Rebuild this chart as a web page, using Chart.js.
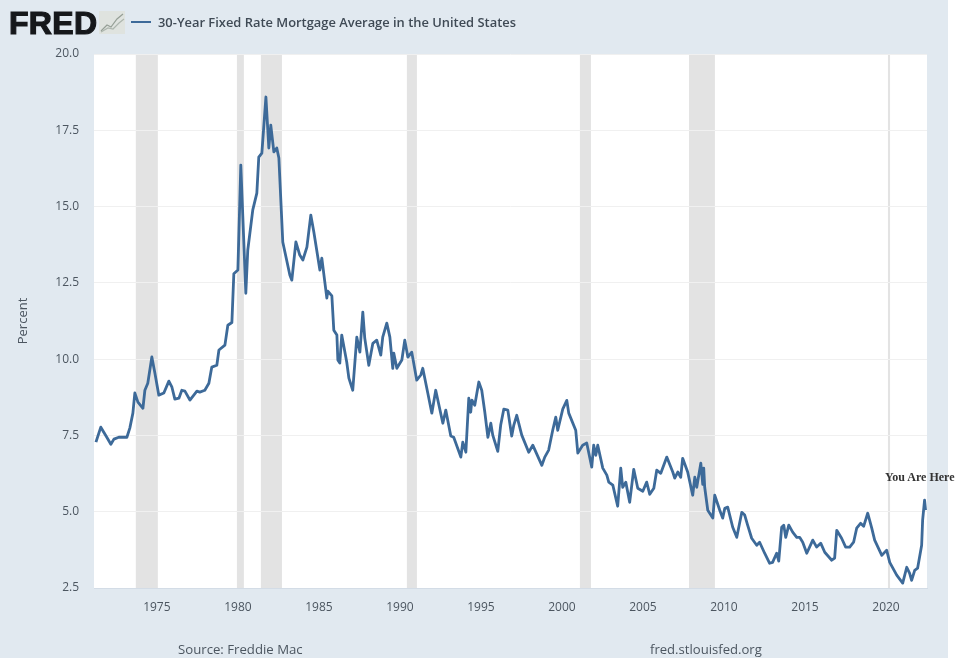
<!DOCTYPE html>
<html>
<head>
<meta charset="utf-8">
<title>30-Year Fixed Rate Mortgage Average in the United States</title>
<script src="https://cdn.jsdelivr.net/npm/chart.js@4/dist/chart.umd.min.js"></script>
<style>
    html, body { margin: 0; padding: 0; background: #fff; }
    #wrap { position: relative; width: 960px; height: 658px; overflow: hidden; }
    #panel { position: absolute; left: 0; top: 0; width: 948px; height: 658px; background: #e1e9f0; }
    canvas { position: absolute; left: 0; top: 0; }
    .label { position: absolute; white-space: nowrap; font-family: "Open Sans", sans-serif; color: #4c5660; }
    #logo { left: 9px; top: 5px; font: 900 32px/36px "Liberation Sans", sans-serif; color: #16181b; letter-spacing: 0.3px; -webkit-text-stroke: 1.2px #16181b; }
    #icon { position: absolute; left: 99px; top: 11px; }
    #key { position: absolute; left: 131px; top: 21px; width: 20px; height: 2px; background: #3d6a99; }
    #title { left: 158px; top: 13px; font-size: 12.9px; line-height: 18px; font-weight: 600; color: #3f4a55; }
    #source { left: 178px; top: 640px; font-size: 13.2px; line-height: 18px; }
    #site { left: 650px; top: 640px; font-size: 13.1px; line-height: 18px; }
    #here { left: 885px; top: 470px; font: bold 12px/14px "Liberation Serif", serif; color: #333; }
</style>
</head>
<body>
<div id="wrap">
    <div id="panel"></div>
    <canvas id="mortgageChart" width="960" height="658"></canvas>
    <div class="label" id="logo">FRED</div>
    <svg id="icon" width="26" height="23" viewBox="0 0 26 23">
        <rect width="26" height="23" fill="#dfe3df"/>
        <polyline points="2,20 8,14 12,16 18,8 24,3" fill="none" stroke="#959f96" stroke-width="1.2"/>
        <polyline points="2,21 9,17 14,18 20,12 25,8" fill="none" stroke="#adb6ae" stroke-width="1.2"/>
    </svg>
    <div id="key"></div>
    <div class="label" id="title">30-Year Fixed Rate Mortgage Average in the United States</div>
    <div class="label" id="source">Source: Freddie Mac</div>
    <div class="label" id="site">fred.stlouisfed.org</div>
    <div class="label" id="here">You Are Here</div>
</div>
<script>
// Values (decimal year, percent)
const years = [
    1971.24, 1971.54, 1971.91, 1972.16, 1972.35, 1972.65, 1973.15, 1973.33, 1973.52, 1973.64,
    1973.83, 1974.14, 1974.26, 1974.44, 1974.69, 1974.88, 1975.12, 1975.43, 1975.74, 1975.93,
    1976.11, 1976.36, 1976.54, 1976.73, 1977.04, 1977.47, 1977.65, 1977.96, 1978.21, 1978.39,
    1978.70, 1978.83, 1979.20, 1979.38, 1979.63, 1979.75, 1980.00, 1980.18, 1980.49, 1980.61,
    1980.92, 1981.17, 1981.29, 1981.48, 1981.73, 1981.91, 1982.03, 1982.22, 1982.40, 1982.53,
    1982.77, 1983.21, 1983.33, 1983.58, 1983.82, 1984.01, 1984.26, 1984.50, 1984.69, 1985.06,
    1985.18, 1985.49, 1985.55, 1985.80, 1985.92, 1986.11, 1986.17, 1986.29, 1986.41, 1986.72,
    1986.85, 1987.09, 1987.34, 1987.53, 1987.71, 1987.83, 1988.08, 1988.33, 1988.57, 1988.82,
    1988.94, 1989.19, 1989.38, 1989.56, 1989.62, 1989.81, 1990.12, 1990.30, 1990.49, 1990.73,
    1991.04, 1991.29, 1991.41, 1991.72, 1991.97, 1992.21, 1992.65, 1992.83, 1993.14, 1993.32,
    1993.76, 1993.88, 1994.07, 1994.25, 1994.37, 1994.44, 1994.62, 1994.87, 1995.05, 1995.24,
    1995.43, 1995.61, 1995.73, 1996.04, 1996.22, 1996.41, 1996.66, 1996.90, 1997.03, 1997.21,
    1997.52, 1997.95, 1998.20, 1998.76, 1998.94, 1999.18, 1999.43, 1999.62, 1999.74, 2000.05,
    2000.30, 2000.42, 2000.85, 2000.98, 2001.28, 2001.53, 2001.84, 2001.96, 2002.09, 2002.21,
    2002.52, 2002.77, 2002.89, 2003.14, 2003.44, 2003.63, 2003.75, 2003.94, 2004.18, 2004.43,
    2004.68, 2004.99, 2005.23, 2005.42, 2005.67, 2005.85, 2006.10, 2006.47, 2006.84, 2006.96,
    2007.15, 2007.33, 2007.45, 2007.76, 2008.07, 2008.20, 2008.32, 2008.57, 2008.69, 2008.75,
    2008.81, 2009.00, 2009.31, 2009.43, 2009.74, 2009.92, 2010.05, 2010.23, 2010.54, 2010.79,
    2011.10, 2011.28, 2011.46, 2011.71, 2012.02, 2012.20, 2012.51, 2012.82, 2013.00, 2013.25,
    2013.38, 2013.56, 2013.69, 2013.81, 2014.00, 2014.24, 2014.49, 2014.67, 2014.86, 2015.11,
    2015.48, 2015.72, 2015.97, 2016.22, 2016.65, 2016.83, 2016.96, 2017.26, 2017.51, 2017.76,
    2018.00, 2018.19, 2018.43, 2018.62, 2018.87, 2019.12, 2019.30, 2019.74, 2020.04, 2020.23,
    2020.66, 2021.03, 2021.28, 2021.46, 2021.58, 2021.77, 2021.95, 2022.20, 2022.26, 2022.38,
    2022.44
];
const rates = [
    7.28, 7.77, 7.44, 7.21, 7.38, 7.44, 7.44, 7.74, 8.23, 8.89,
    8.59, 8.39, 8.98, 9.21, 10.07, 9.54, 8.82, 8.89, 9.28, 9.08,
    8.69, 8.72, 8.98, 8.95, 8.66, 8.95, 8.92, 8.98, 9.21, 9.74,
    9.80, 10.30, 10.46, 11.11, 11.20, 12.80, 12.92, 16.36, 12.16, 13.57,
    14.89, 15.44, 16.62, 16.75, 18.59, 16.92, 17.67, 16.79, 16.92, 16.59,
    13.84, 12.75, 12.59, 13.84, 13.41, 13.25, 13.67, 14.72, 14.16, 12.92,
    13.31, 12.00, 12.23, 12.07, 10.95, 10.79, 9.97, 9.87, 10.79, 9.90,
    9.38, 8.98, 10.72, 10.23, 11.54, 10.69, 9.80, 10.52, 10.62, 10.13,
    10.72, 11.18, 10.72, 9.70, 10.20, 9.70, 9.97, 10.62, 10.07, 10.23,
    9.31, 9.48, 9.70, 8.89, 8.23, 8.98, 7.90, 8.33, 7.48, 7.44,
    6.79, 7.28, 6.95, 8.72, 8.26, 8.66, 8.49, 9.25, 8.98, 8.26,
    7.44, 7.90, 7.51, 6.98, 7.84, 8.36, 8.33, 7.48, 7.84, 8.16,
    7.51, 6.95, 7.18, 6.52, 6.79, 7.02, 7.67, 8.10, 7.67, 8.36,
    8.65, 8.23, 7.67, 6.92, 7.18, 7.25, 6.46, 7.18, 6.85, 7.18,
    6.43, 6.20, 5.97, 5.87, 5.18, 6.43, 5.80, 5.97, 5.31, 6.39,
    5.77, 5.67, 5.97, 5.57, 5.77, 6.36, 6.26, 6.79, 6.30, 6.10,
    6.30, 6.13, 6.75, 6.30, 5.54, 6.13, 5.80, 6.59, 5.90, 6.43,
    5.80, 5.05, 4.79, 5.54, 5.05, 4.79, 5.11, 5.15, 4.49, 4.16,
    4.98, 4.89, 4.56, 4.13, 3.90, 4.00, 3.64, 3.31, 3.34, 3.64,
    3.38, 4.49, 4.56, 4.16, 4.56, 4.33, 4.16, 4.16, 4.00, 3.64,
    4.07, 3.84, 3.97, 3.67, 3.41, 3.48, 4.39, 4.13, 3.84, 3.84,
    4.00, 4.46, 4.62, 4.52, 4.95, 4.46, 4.07, 3.57, 3.74, 3.34,
    2.92, 2.66, 3.18, 2.98, 2.75, 3.08, 3.15, 3.90, 4.72, 5.38,
    5.05
];
const xTickYears = [1975, 1980, 1985, 1990, 1995, 2000, 2005, 2010, 2015, 2020];
const yTickValues = [2.5, 5, 7.5, 10, 12.5, 15, 17.5, 20];
const recessionStart = [1973.70, 1979.94, 1981.42, 1990.43, 2001.11, 2007.84, 2020.12];
const recessionEnd = [1975.06, 1980.37, 1982.72, 1991.05, 2001.79, 2009.44, 2020.25];

// Draws the white plot area and the grey recession bands behind the line
const plotBackground = {
    id: 'plotBackground',
    beforeDraw(chart) {
        const { ctx, chartArea, scales } = chart;
        ctx.save();
        ctx.fillStyle = '#ffffff';
        ctx.fillRect(chartArea.left, chartArea.top, chartArea.width, chartArea.height);
        ctx.fillStyle = '#e3e3e3';
        recessionStart.forEach((start, i) => {
            const x0 = scales.x.getPixelForValue(start);
            const x1 = scales.x.getPixelForValue(recessionEnd[i]);
            ctx.fillRect(x0, chartArea.top, x1 - x0, chartArea.height);
        });
        ctx.restore();
    }
};

new Chart(document.getElementById('mortgageChart'), {
    type: 'line',
    plugins: [plotBackground],
    data: {
        datasets: [{
            label: '30-Year Fixed Rate Mortgage Average in the United States',
            data: years.map((year, i) => ({ x: year, y: rates[i] })),
            borderColor: '#3d6a99',
            borderWidth: 2.8,
            pointRadius: 0,
            tension: 0,
            borderJoinStyle: 'round'
        }]
    },
    options: {
        responsive: false,
        animation: false,
        layout: { padding: { top: 54, right: 33, left: 0, bottom: 0 } },
        plugins: { legend: { display: false }, tooltip: { enabled: false } },
        scales: {
            x: {
                type: 'linear',
                min: 1971.12,
                max: 2022.53,
                afterBuildTicks: axis => { axis.ticks = xTickYears.map(value => ({ value })); },
                afterFit: axis => { axis.height = 70; },
                grid: { display: false },
                border: { color: '#d3dce6' },
                ticks: {
                    padding: 4,
                    maxRotation: 0,
                    autoSkip: false,
                    color: '#4c5660',
                    font: { family: '"Open Sans", sans-serif', size: 12 },
                    callback: value => String(value)
                }
            },
            y: {
                min: 2.5,
                max: 20,
                afterBuildTicks: axis => { axis.ticks = yTickValues.map(value => ({ value })); },
                afterFit: axis => { axis.width = 94; },
                grid: { color: '#f0f0f0', lineWidth: 1, drawTicks: false },
                border: { display: false },
                title: {
                    display: true,
                    text: 'Percent',
                    color: '#4c5660',
                    font: { family: '"Open Sans", sans-serif', size: 13 },
                    padding: { top: 15, bottom: 0 }
                },
                ticks: {
                    padding: 15,
                    color: '#4c5660',
                    font: { family: '"Open Sans", sans-serif', size: 12 },
                    callback: value => value.toFixed(1)
                }
            }
        }
    }
});
</script>
</body>
</html>
